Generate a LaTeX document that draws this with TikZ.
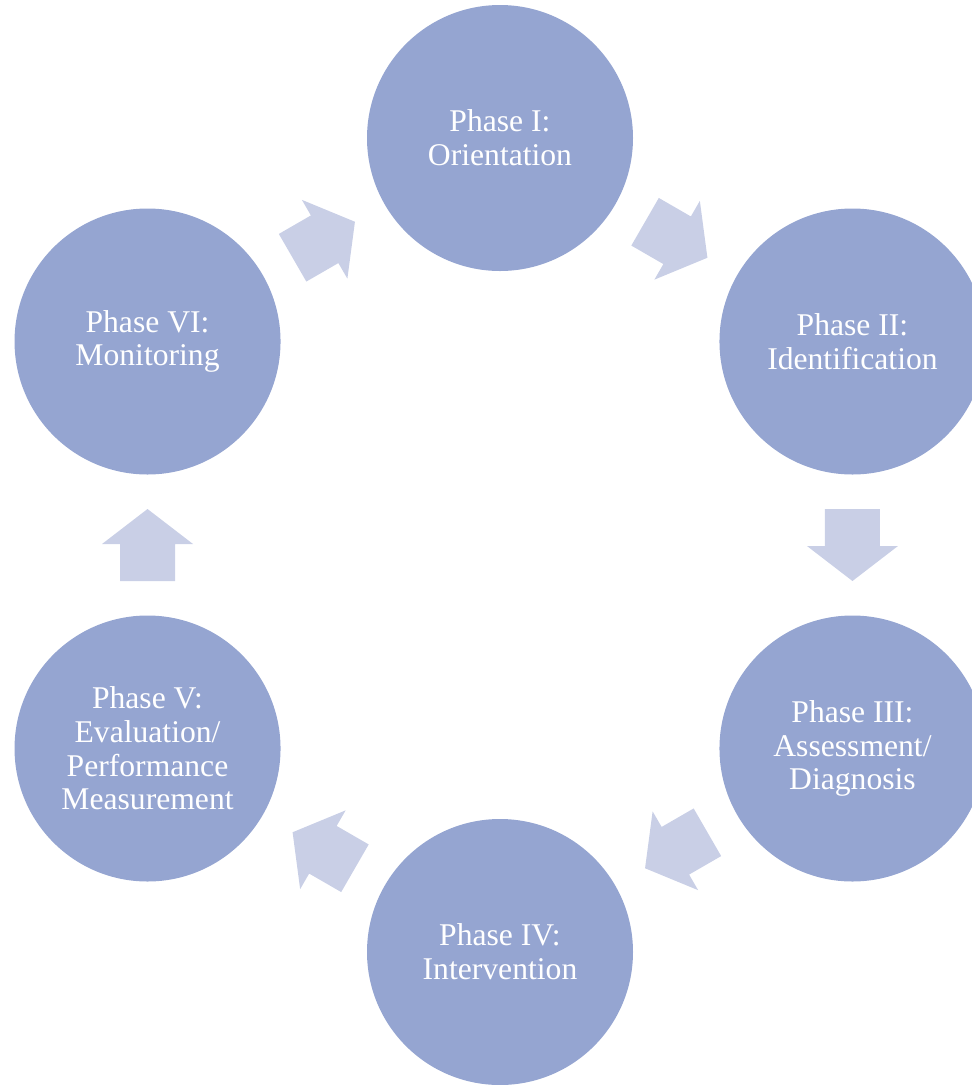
\documentclass[tikz,border=0pt]{standalone}
\usepackage{fontspec}
\setmainfont{Liberation Serif}
\usetikzlibrary{calc}
\definecolor{phasefill}{RGB}{149,165,209}
\definecolor{flowfill}{RGB}{201,207,230}
\tikzset{
  phase/.style={circle,fill=phasefill,minimum size=6.65cm,inner sep=0pt,
    text=white,align=center,font=\fontsize{22.5}{24}\selectfont},
  flow/.style={fill=flowfill}
}
\begin{document}
\begin{tikzpicture}
  \useasboundingbox (0,0) rectangle (24.3,-27.125);
  \coordinate (ctr) at (12.5,-13.625);
  % phases
  \node[phase] (ph1) at ($(ctr)+(90:10.175)$) {Phase I:\\Orientation};
  \node[phase] (ph2) at ($(ctr)+(30:10.175)$) {Phase II:\\Identification};
  \node[phase] (ph3) at ($(ctr)+(-30:10.175)$) {Phase III:\\Assessment/\\Diagnosis};
  \node[phase] (ph4) at ($(ctr)+(-90:10.175)$) {Phase IV:\\Intervention};
  \node[phase] (ph5) at ($(ctr)+(210:10.175)$) {Phase V:\\Evaluation/\\Performance\\Measurement};
  \node[phase] (ph6) at ($(ctr)+(150:10.175)$) {Phase VI:\\Monitoring};
  % arrows
  \foreach \a/\b/\ang in {ph1/ph2/-30,ph2/ph3/-90,ph3/ph4/-150,ph4/ph5/150,ph5/ph6/90,ph6/ph1/30}{
    \fill[flow,shift={($(\a)!0.5!(\b)$)},rotate=\ang]
      (-0.9,-0.6875) -- (0.025,-0.6875) -- (0.025,-1.1375) -- (0.9,0)
      -- (0.025,1.1375) -- (0.025,0.6875) -- (-0.9,0.6875) -- cycle;
  }
\end{tikzpicture}
\end{document}
